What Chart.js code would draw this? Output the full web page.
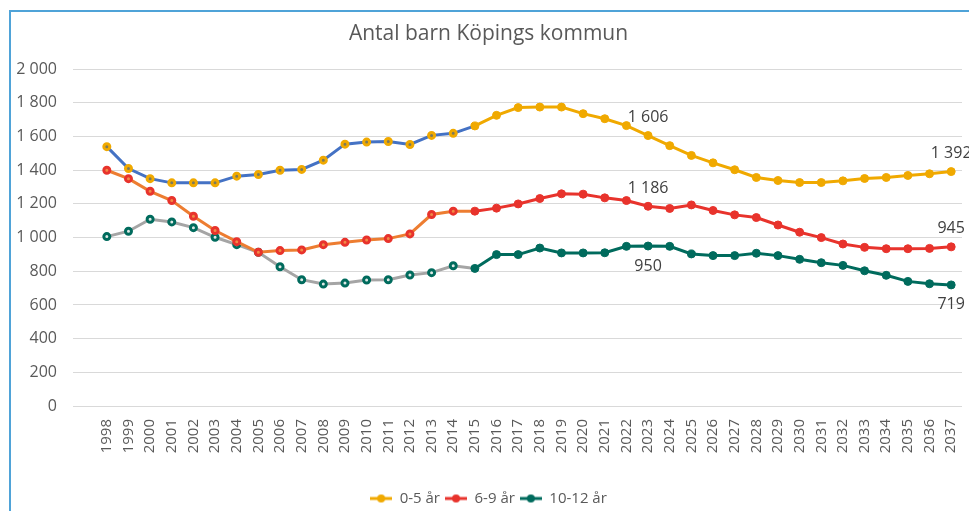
<!DOCTYPE html>
<html>
<head>
<meta charset="utf-8">
<script src="https://cdn.jsdelivr.net/npm/chart.js@4"></script>
<style>
  html, body { margin: 0; padding: 0; background: #fff; overflow: hidden; }
  #wrap { position: relative; width: 969px; height: 511px; }
  #frame { position: absolute; left: 9px; top: 10px; width: 960px; height: 501px;
           border-top: 2px solid #4fa3d8; border-left: 2px solid #4fa3d8; pointer-events: none; }
</style>
</head>
<body>
<div id="wrap">
  <canvas id="lineChart"></canvas>
  <div id="frame"></div>
</div>
<script>
// data
const years = ['1998','1999','2000','2001','2002','2003','2004','2005','2006','2007',
               '2008','2009','2010','2011','2012','2013','2014','2015','2016','2017',
               '2018','2019','2020','2021','2022','2023','2024','2025','2026','2027',
               '2028','2029','2030','2031','2032','2033','2034','2035','2036','2037'];
const age0to5 = [1540,1410,1350,1325,1325,1325,1365,1375,1400,1405,
                 1460,1555,1567,1571,1553,1607,1619,1663,1726,1772,
                 1775,1775,1736,1706,1665,1606,1546,1488,1444,1403,
                 1357,1339,1327,1327,1337,1351,1357,1369,1379,1392];
const age6to9 = [1400,1350,1275,1220,1127,1042,976,913,923,927,
                 958,972,986,994,1022,1137,1157,1157,1175,1200,
                 1232,1260,1258,1236,1220,1186,1173,1194,1161,1135,
                 1119,1075,1032,1000,962,942,934,934,936,945];
const age10to12 = [1006,1038,1109,1093,1059,1002,958,913,827,750,
                   724,730,748,750,778,792,833,817,899,899,
                   938,909,909,910,948,950,948,903,893,893,
                   907,893,871,851,835,803,776,740,726,719];
const seriesNames = ['0-5 år', '6-9 år', '10-12 år'];
const yTicks = [0, 200, 400, 600, 800, 1000, 1200, 1400, 1600, 1800, 2000];
const labelledYears = ['2023', '2037'];

// older part of each line is drawn in another colour
const splitIdx = years.indexOf('2015');

const fmt = v => String(Math.round(v)).replace(/\B(?=(\d{3})+(?!\d))/g, ' ');

function legendIcon(color) {
    const c = document.createElement('canvas');
    c.width = 22; c.height = 10;
    const g = c.getContext('2d');
    g.strokeStyle = color; g.lineWidth = 3;
    g.beginPath(); g.moveTo(0, 5); g.lineTo(22, 5); g.stroke();
    g.fillStyle = color;
    g.beginPath(); g.arc(11, 5, 4, 0, Math.PI * 2); g.fill();
    return c;
}

function makeSet(name, data, main, old, dot, below) {
    return {
        label: name,
        data: data,
        borderColor: main,
        backgroundColor: main,
        borderWidth: 3,
        tension: 0,
        fill: false,
        pointStyle: 'circle',
        pointRadius: ctx => ctx.dataIndex < splitIdx ? 3 : 4,
        pointBorderWidth: ctx => ctx.dataIndex < splitIdx ? 3 : 1,
        pointBackgroundColor: ctx => ctx.dataIndex < splitIdx ? dot : main,
        pointBorderColor: main,
        segment: {
            borderColor: ctx => ctx.p1DataIndex <= splitIdx ? old : main
        },
        labelBelow: below,
        icon: legendIcon(main)
    };
}

// value labels at chosen years
const valueLabels = {
    id: 'valueLabels',
    afterDatasetsDraw(chart) {
        const g = chart.ctx;
        g.save();
        g.font = '16px "Open Sans"';
        g.fillStyle = '#404040';
        g.textAlign = 'center';
        g.textBaseline = 'middle';
        chart.data.datasets.forEach((ds, i) => {
            const meta = chart.getDatasetMeta(i);
            labelledYears.forEach(yr => {
                const idx = years.indexOf(yr);
                const pt = meta.data[idx];
                const dy = ds.labelBelow ? 20 : -18;
                g.fillText(fmt(ds.data[idx]), pt.x, pt.y + dy);
            });
        });
        g.restore();
    }
};

const lineCtx = document.getElementById('lineChart');
new Chart(lineCtx, {
    type: 'line',
    data: {
        labels: years,
        datasets: [
            makeSet(seriesNames[0], age0to5, '#f0a900', '#4472c4', '#7d7a5a', false),
            makeSet(seriesNames[1], age6to9, '#e8332c', '#ed7d31', '#f08a45', false),
            makeSet(seriesNames[2], age10to12, '#006b5d', '#a5a5a5', '#dfe9e6', true)
        ]
    },
    options: {
        responsive: true,
        maintainAspectRatio: false,
        animation: false,
        events: [],
        layout: { padding: { left: 0, right: -8, top: 0, bottom: -5 } },
        scales: {
            x: {
                offset: true,
                grid: { display: false, drawTicks: false },
                border: { display: false },
                ticks: {
                    autoSkip: false,
                    minRotation: 90,
                    maxRotation: 90,
                    padding: 13,
                    color: '#595959',
                    font: { family: 'Open Sans', size: 15 }
                },
                afterFit: s => { s.height = 80; s.paddingLeft = 0; s.paddingRight = 0; }
            },
            y: {
                min: 0,
                max: 2000,
                afterBuildTicks: s => { s.ticks = yTicks.map(v => ({ value: v })); },
                grid: { color: '#d9d9d9', lineWidth: 1, tickLength: 23 },
                border: { display: false },
                ticks: {
                    padding: 16,
                    color: '#595959',
                    font: { family: 'Open Sans', size: 16 },
                    callback: v => fmt(v)
                },
                afterFit: s => { s.width = 96; s.paddingTop = 0; s.paddingBottom = 0; }
            }
        },
        plugins: {
            title: {
                display: true,
                text: 'Antal barn Köpings kommun',
                color: '#595959',
                font: { family: 'Open Sans', size: 21, weight: 'normal' },
                padding: { top: 21, bottom: 23 }
            },
            legend: {
                position: 'bottom',
                labels: {
                    usePointStyle: true,
                    pointStyleWidth: 22,
                    color: '#595959',
                    font: { family: 'Open Sans', size: 15 },
                    padding: 5,
                    generateLabels: chart => chart.data.datasets.map((ds, i) => ({
                        text: ds.label,
                        pointStyle: ds.icon,
                        fillStyle: ds.borderColor,
                        strokeStyle: ds.borderColor,
                        fontColor: '#595959',
                        lineWidth: 0,
                        hidden: false,
                        datasetIndex: i
                    }))
                }
            },
            tooltip: { enabled: false }
        }
    },
    plugins: [valueLabels]
});
</script>
</body>
</html>
